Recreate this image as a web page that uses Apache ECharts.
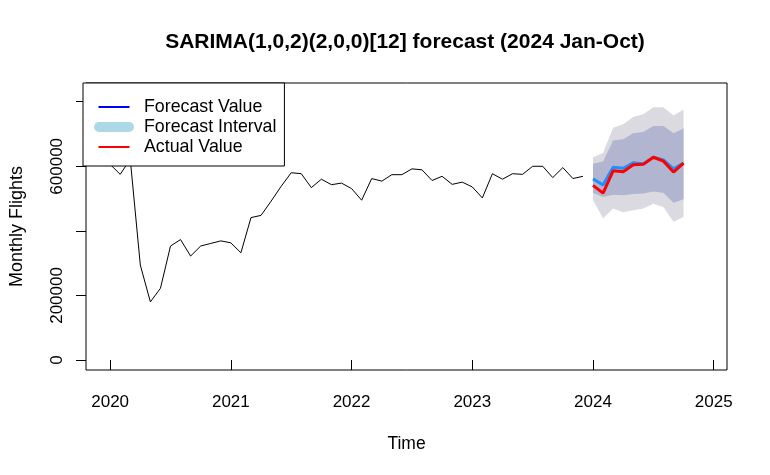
<!DOCTYPE html>
<html>
<head>
<meta charset="utf-8">
<script src="https://cdn.jsdelivr.net/npm/echarts@6/dist/echarts.min.js"></script>
<style>
  html, body { margin: 0; padding: 0; background: #fff; }
  #chart { width: 770px; height: 475px; }
</style>
</head>
<body>
<div id="chart"></div>
<script>
// monthly flights, Jan 2020 - Dec 2023
const historyStart = 2020;
const historyValues = [
  606000, 575000, 622000, 294000, 180000, 222000, 353000, 373000, 322000, 353000, 361000, 369000,
  363000, 332000, 441000, 448000, 492000, 538000, 580000, 577000, 534000, 560000, 543000, 548000,
  531000, 495000, 562000, 554000, 574000, 574000, 592000, 589000, 556000, 569000, 544000, 551000,
  536000, 502000, 577000, 560000, 577000, 575000, 600000, 600000, 565000, 596000, 562000, 569000
];

// forecast horizon Jan - Oct 2024
const forecastStart = 2024;
const forecastValues = [561000, 542000, 597000, 594000, 611000, 608000, 628000, 620000, 592000, 610000];
const actualValues = [541000, 517000, 586000, 583000, 605000, 606000, 628000, 616000, 582000, 610000];
const lower80 = [518000, 505000, 512000, 510000, 514000, 516000, 522000, 518000, 487000, 498000];
const upper80 = [608000, 615000, 680000, 684000, 702000, 706000, 725000, 725000, 702000, 717000];
const lower95 = [495000, 439000, 469000, 458000, 464000, 469000, 484000, 474000, 428000, 443000];
const upper95 = [628000, 641000, 719000, 730000, 753000, 761000, 783000, 783000, 757000, 776000];

const xTicks = [2020, 2021, 2022, 2023, 2024, 2025];
const yTicks = [0, 200000, 400000, 600000, 800000];
const yLabels = [0, 200000, 600000];

document.addEventListener("DOMContentLoaded", function () {
  const font = "Liberation Sans";

  function toPoints(start, values) {
    return values.map((v, i) => [start + i / 12, v]);
  }

  // interval band: one polygon, drawn once from all rows
  function bandSeries(name, lo, hi, color, z) {
    const rows = lo.map((v, i) => [forecastStart + i / 12, v, hi[i]]);
    return {
      name: name,
      type: "custom",
      silent: true,
      z: z,
      itemStyle: { color: color },
      encode: { x: 0, y: [1, 2] },
      data: rows,
      renderItem: function (params, api) {
        if (params.dataIndex !== 0) return null;
        const upper = rows.map((r) => api.coord([r[0], r[2]]));
        const lower = rows.map((r) => api.coord([r[0], r[1]])).reverse();
        return {
          type: "polygon",
          shape: { points: upper.concat(lower) },
          style: { fill: color, stroke: null },
        };
      },
    };
  }

  const lineIcon = "path://M-4.5,7h0.01v0.01h-0.01z M0,7h31v2h-31z M35.5,7h0.01v0.01h-0.01z";

  let chart = echarts.init(document.getElementById("chart"), null, { renderer: "canvas" });
  let option = {
    animation: false,
    backgroundColor: "#fff",
    title: {
      text: "SARIMA(1,0,2)(2,0,0)[12] forecast (2024 Jan-Oct)",
      left: 405,
      top: 32,
      padding: 0,
      textAlign: "center",
      textStyle: { fontFamily: font, fontSize: 21, fontWeight: "bold", color: "#000" },
    },
    legend: {
      left: 83,
      top: 83,
      orient: "vertical",
      padding: [15, 8, 10, 11],
      itemGap: 2,
      itemWidth: 40,
      itemHeight: 14,
      symbolKeepAspect: true,
      selectedMode: false,
      backgroundColor: "#fff",
      borderColor: "#000",
      borderWidth: 1,
      borderRadius: 0,
      z: 10,
      textStyle: { fontFamily: font, fontSize: 17.8, color: "#000", padding: [0, 0, 0, 5] },
      data: [
        { name: "Forecast Value", icon: lineIcon, itemStyle: { color: "#0000FF", borderWidth: 0 } },
        {
          name: "Forecast Interval",
          icon: "path://M5,0h30a5,5 0 0 1 0,10h-30a5,5 0 0 1 0,-10z",
          itemStyle: { color: "#ADD8E6", borderWidth: 0 },
        },
        { name: "Actual Value", icon: lineIcon, itemStyle: { color: "#FF0000", borderWidth: 0 } },
      ],
    },
    grid: {
      left: 83,
      right: 43,
      top: 83,
      bottom: 105,
      show: true,
      borderColor: "#000",
      borderWidth: 1,
      backgroundColor: "transparent",
    },
    xAxis: {
      type: "value",
      min: 2019.8,
      max: 2025.11,
      name: "Time",
      nameLocation: "middle",
      nameGap: 65,
      nameTextStyle: { fontFamily: font, fontSize: 17.5, color: "#000" },
      axisLine: { show: false },
      splitLine: { show: false },
      axisTick: {
        show: true,
        length: 10,
        customValues: xTicks,
        lineStyle: { color: "#000", width: 1 },
      },
      axisLabel: {
        customValues: xTicks,
        margin: 24,
        fontFamily: font,
        fontSize: 17,
        color: "#000",
        formatter: (v) => String(v),
      },
    },
    yAxis: {
      type: "value",
      min: -31000,
      max: 858000,
      name: "Monthly Flights",
      nameLocation: "middle",
      nameGap: 60,
      nameRotate: 90,
      nameTextStyle: { fontFamily: font, fontSize: 18, color: "#000" },
      axisLine: { show: false },
      splitLine: { show: false },
      axisTick: {
        show: true,
        length: 10,
        customValues: yTicks,
        lineStyle: { color: "#000", width: 1 },
      },
      axisLabel: {
        customValues: yLabels,
        rotate: 90,
        margin: 20,
        fontFamily: font,
        fontSize: 17,
        color: "#000",
        formatter: (v) => String(v),
      },
    },
    series: [
      bandSeries("band-95", lower95, upper95, "#DADAE0", 1),
      bandSeries("Forecast Interval", lower80, upper80, "#B1B5D0", 2),
      {
        name: "history",
        type: "line",
        symbol: "none",
        silent: true,
        lineStyle: { color: "#000", width: 1 },
        data: toPoints(historyStart, historyValues),
        z: 3,
      },
      {
        name: "Forecast Value",
        type: "line",
        symbol: "none",
        silent: true,
        itemStyle: { color: "#1E90FF" },
        lineStyle: { color: "#1E90FF", width: 3 },
        data: toPoints(forecastStart, forecastValues),
        z: 4,
      },
      {
        name: "Actual Value",
        type: "line",
        symbol: "none",
        silent: true,
        itemStyle: { color: "#FF0000" },
        lineStyle: { color: "#FF0000", width: 3 },
        data: toPoints(forecastStart, actualValues),
        z: 5,
      },
    ],
  };
  option && chart.setOption(option);
});
</script>
</body>
</html>
